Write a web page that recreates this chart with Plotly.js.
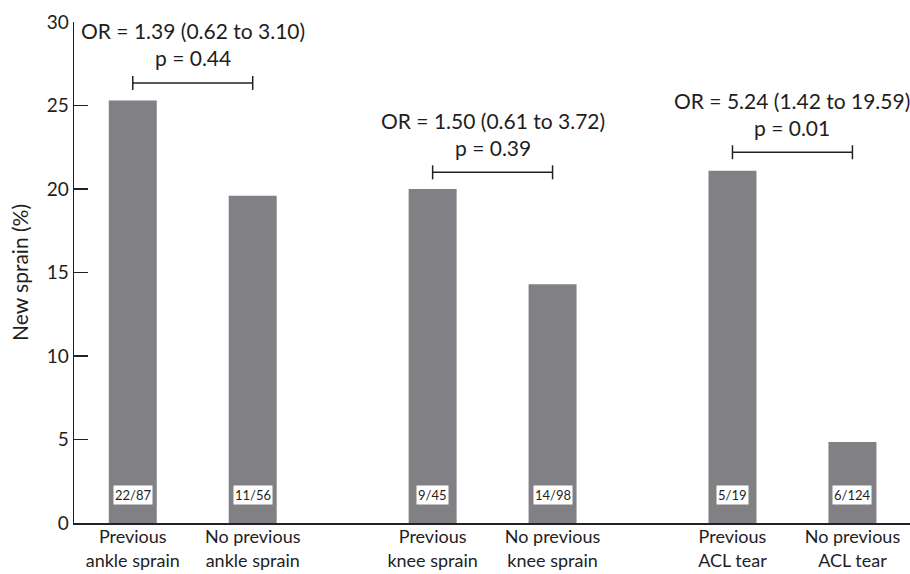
<!DOCTYPE html>
<html>
<head>
<meta charset="utf-8">
<script src="https://cdn.plot.ly/plotly-3.0.1.min.js"></script>
<style>html,body{margin:0;padding:0;background:#fff;}#chart{width:910px;height:574px;}</style>
</head>
<body>
<div id="chart"></div>
<script>
// ---- data ----
var categories = [
  "Previous<br>ankle sprain", "No previous<br>ankle sprain",
  "Previous<br>knee sprain", "No previous<br>knee sprain",
  "Previous<br>ACL tear", "No previous<br>ACL tear"
];
var newSprainPct = [25.3, 19.6, 20.0, 14.3, 21.1, 4.85];
var countLabels = ["22/87", "11/56", "9/45", "14/98", "5/19", "6/124"];
var orTexts = ["OR = 1.39 (0.62 to 3.10)", "OR = 1.50 (0.61 to 3.72)", "OR = 5.24 (1.42 to 19.59)"];
var pTexts = ["p = 0.44", "p = 0.39", "p = 0.01"];
var bracketLevels = [26.35, 21.0, 22.2];
var yTicks = [0, 5, 10, 15, 20, 25, 30];

// ---- layout helpers ----
var GROUP_GAP = 2.5;
var xPos = categories.map(function (c, i) { return Math.floor(i / 2) * GROUP_GAP + (i % 2); });

var FONT = "Lato, 'Noto Sans', sans-serif";
var TXT = "#1e1e1e";

var trace = {
  type: "bar",
  x: xPos,
  y: newSprainPct,
  width: 0.4,
  marker: { color: "#808085", line: { width: 0 } },
  hoverinfo: "skip"
};

var annotations = [];
var shapes = [];
countLabels.forEach(function (lab, i) {
  annotations.push({
    x: xPos[i], y: 0, xref: "x", yref: "y", yanchor: "middle", yshift: 28,
    text: lab, showarrow: false, bgcolor: "#ffffff", borderpad: 1,
    font: { family: FONT, size: 13, color: TXT }
  });
});
bracketLevels.forEach(function (lv, g) {
  var x0 = xPos[2 * g], x1 = xPos[2 * g + 1];
  shapes.push({ type: "line", xref: "x", yref: "y", x0: x0, x1: x1, y0: lv, y1: lv, line: { color: "#222", width: 1.5 } });
  [x0, x1].forEach(function (xe) {
    shapes.push({ type: "line", xref: "x", yref: "y", x0: xe, x1: xe, y0: lv - 0.42, y1: lv + 0.42, line: { color: "#222", width: 1.5 } });
  });
  var xc = (x0 + x1) / 2;
  annotations.push({
    x: xc, y: lv, xref: "x", yref: "y", yanchor: "middle", yshift: 25,
    text: pTexts[g], showarrow: false, font: { family: FONT, size: 21, color: TXT }
  });
  annotations.push({
    x: xc, y: lv, xref: "x", yref: "y", yanchor: "middle", yshift: 52,
    text: orTexts[g], showarrow: false, font: { family: FONT, size: 21, color: TXT }
  });
});

var layout = {
  width: 910, height: 574,
  margin: { l: 74, r: 0, t: 22, b: 51 },
  paper_bgcolor: "#fff", plot_bgcolor: "#fff",
  showlegend: false,
  xaxis: {
    range: [-0.49, 6.48],
    tickmode: "array", tickvals: xPos, ticktext: categories,
    showgrid: false, zeroline: false,
    showline: true, linecolor: "#222", linewidth: 1.5,
    ticks: "", ticklabelstandoff: -3,
    tickfont: { family: FONT, size: 18, color: TXT },
    fixedrange: true
  },
  yaxis: {
    range: [0, 30],
    tickmode: "array", tickvals: yTicks,
    showgrid: false, zeroline: false,
    showline: true, linecolor: "#222", linewidth: 1.5,
    ticks: "inside", ticklen: 14, tickwidth: 1.5, tickcolor: "#222",
    tickfont: { family: FONT, size: 19, color: TXT },
    title: { text: "New sprain (%)", font: { family: FONT, size: 21, color: TXT }, standoff: 12 },
    fixedrange: true
  },
  annotations: annotations,
  shapes: shapes
};

Plotly.newPlot("chart", [trace], layout, { displayModeBar: false, staticPlot: true });
</script>
</body>
</html>
